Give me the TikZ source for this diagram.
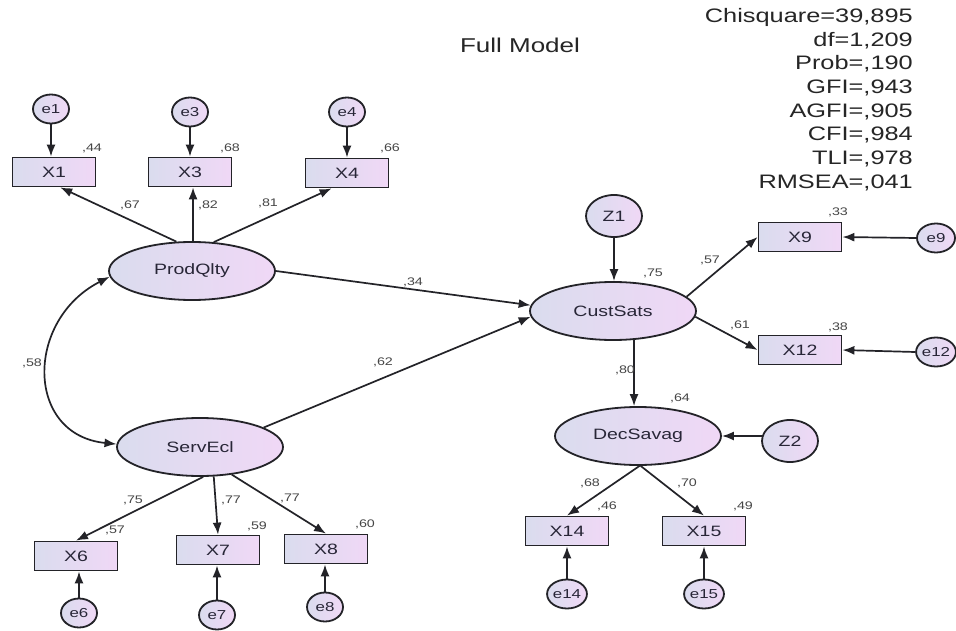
\documentclass[tikz,border=0pt]{standalone}
\usepackage{fontspec}
\setmainfont[FakeStretch=1.3]{Liberation Sans}
\usetikzlibrary{shapes.geometric,arrows.meta}
\definecolor{lineC}{RGB}{35,35,40}
\definecolor{fillL}{RGB}{218,220,238}
\definecolor{fillR}{RGB}{240,216,246}
\definecolor{txtC}{RGB}{40,38,55}
\definecolor{numC}{RGB}{70,70,70}
\begin{document}
\begin{tikzpicture}[x=1pt,y=-1pt,
  shadefill/.style={left color=fillL,right color=fillR,draw=lineC,line width=1.8pt},
  obs/.style={shadefill,rectangle,minimum width=83pt,minimum height=29pt,inner sep=0pt,text=txtC,font=\fontsize{15}{17}\selectfont},
  lat/.style={shadefill,ellipse,minimum width=166pt,minimum height=58pt,inner sep=0pt,text=txtC,font=\fontsize{15}{17}\selectfont},
  err/.style={shadefill,ellipse,minimum width=36pt,minimum height=29pt,inner sep=0pt,text=txtC,font=\fontsize{13}{15}\selectfont},
  dist/.style={shadefill,ellipse,minimum width=56pt,minimum height=42pt,inner sep=0pt,text=txtC,font=\fontsize{15}{17}\selectfont},
  num/.style={text=numC,font=\fontsize{11}{12}\selectfont,inner sep=0pt},
  arr/.style={draw=lineC,line width=1.7pt,-{Latex[length=12pt,width=9pt]}},
  darr/.style={draw=lineC,line width=1.7pt,{Latex[length=12pt,width=9pt]}-{Latex[length=12pt,width=9pt]}}
]
\useasboundingbox[fill=white] (0,0) rectangle (956,631);

% title and fit indices
\node[font=\fontsize{20}{22}\selectfont,text=black!85,inner sep=0pt] (title) at (520,45) {Full Model};
\node[anchor=north east,align=right,font=\fontsize{19.5}{23.7}\selectfont,text=black!85,inner sep=0pt] (fit) at (913,8)
  {Chisquare=39,895\\df=1,209\\Prob=,190\\GFI=,943\\AGFI=,905\\CFI=,984\\TLI=,978\\RMSEA=,041};

% latent variables
\node[lat] (prod) at (192,271) {ProdQlty};
\node[lat] (serv) at (200,447) {ServEcl};
\node[lat] (cust) at (613,311) {CustSats};
\node[lat] (dec)  at (638,436) {DecSavag};

% observed variables
\node[obs] (x1)  at (54,172)  {X1};
\node[obs] (x3)  at (190,172) {X3};
\node[obs] (x4)  at (347,173) {X4};
\node[obs] (x6)  at (76,556)  {X6};
\node[obs] (x7)  at (218,550) {X7};
\node[obs] (x8)  at (326,549) {X8};
\node[obs] (x9)  at (800,237) {X9};
\node[obs] (x12) at (800,350) {X12};
\node[obs] (x14) at (567,531) {X14};
\node[obs] (x15) at (704,531) {X15};

% error terms
\node[err] (e1)  at (51,109)  {e1};
\node[err] (e3)  at (190,112) {e3};
\node[err] (e4)  at (347,112) {e4};
\node[err] (e6)  at (79,613)  {e6};
\node[err] (e7)  at (217,615) {e7};
\node[err] (e8)  at (325,607) {e8};
\node[err,minimum width=38pt] (e9)  at (936,238) {e9};
\node[err,minimum width=38pt] (e12) at (936,352) {e12};
\node[err,minimum width=38pt] (e14) at (567,594) {e14};
\node[err,minimum width=38pt] (e15) at (704,594) {e15};

% disturbances
\node[dist] (z1) at (614,216) {Z1};
\node[dist] (z2) at (790,441) {Z2};

% paths
\draw[arr] (e1.south) -- (e1.south |- x1.north);
\draw[arr] (e3.south) -- (e3.south |- x3.north);
\draw[arr] (e4.south) -- (e4.south |- x4.north);
\draw[arr] (prod.118) -- (x1.-68);
\draw[arr] (prod.88) -- (prod.88 |- x3.south);
\draw[arr] (prod.53) -- (x4.-135);
\draw[arr] (prod.east) -- (cust.176);
\draw[arr] (serv.17) -- (cust.184);
\draw[darr] (prod.184) .. controls (25,320) and (25,435) .. (serv.178);
\draw[arr] (serv.-84) -- (x6.north);
\draw[arr] (serv.-65) -- (x7.north);
\draw[arr] (serv.-41) -- (x8.north);
\draw[arr] (e6.north) -- (e6.north |- x6.south);
\draw[arr] (e7.north) -- (e7.north |- x7.south);
\draw[arr] (e8.north) -- (e8.north |- x8.south);
\draw[arr] (z1.south) -- (z1.south |- cust.north);
\draw[arr] (cust.11) -- (x9.west);
\draw[arr] (cust.-4) -- (x12.west);
\draw[arr] (e9.west) -- (x9.east);
\draw[arr] (e12.west) -- (x12.east);
\draw[arr] (cust.-54) -- (cust.-54 |- dec.north);
\draw[arr] (z2.170) -- (dec.east);
\draw[arr] (dec.-87) -- (x14.north);
\draw[arr] (dec.-85) -- (x15.north);
\draw[arr] (e14.north) -- (x14.south);
\draw[arr] (e15.north) -- (x15.south);

% estimates
\node[num] (n44) at (92,148) {,44};
\node[num] (n68a) at (230,148) {,68};
\node[num] (n66) at (390,148) {,66};
\node[num] (n67) at (130,205) {,67};
\node[num] (n82) at (208,205) {,82};
\node[num] (n81) at (268,203) {,81};
\node[num] (n34) at (413,282) {,34};
\node[num] (n58) at (32,363) {,58};
\node[num] (n62) at (383,362) {,62};
\node[num] (n75a) at (133,500) {,75};
\node[num] (n77a) at (231,500) {,77};
\node[num] (n77b) at (290,498) {,77};
\node[num] (n57a) at (115,530) {,57};
\node[num] (n59) at (257,526) {,59};
\node[num] (n60) at (365,524) {,60};
\node[num] (n75b) at (653,273) {,75};
\node[num] (n57b) at (710,260) {,57};
\node[num] (n33) at (838,212) {,33};
\node[num] (n61) at (740,325) {,61};
\node[num] (n38) at (838,327) {,38};
\node[num] (n80) at (625,370) {,80};
\node[num] (n64) at (680,398) {,64};
\node[num] (n68b) at (590,483) {,68};
\node[num] (n70) at (687,483) {,70};
\node[num] (n46) at (607,506) {,46};
\node[num] (n49) at (743,506) {,49};
\end{tikzpicture}
\end{document}
